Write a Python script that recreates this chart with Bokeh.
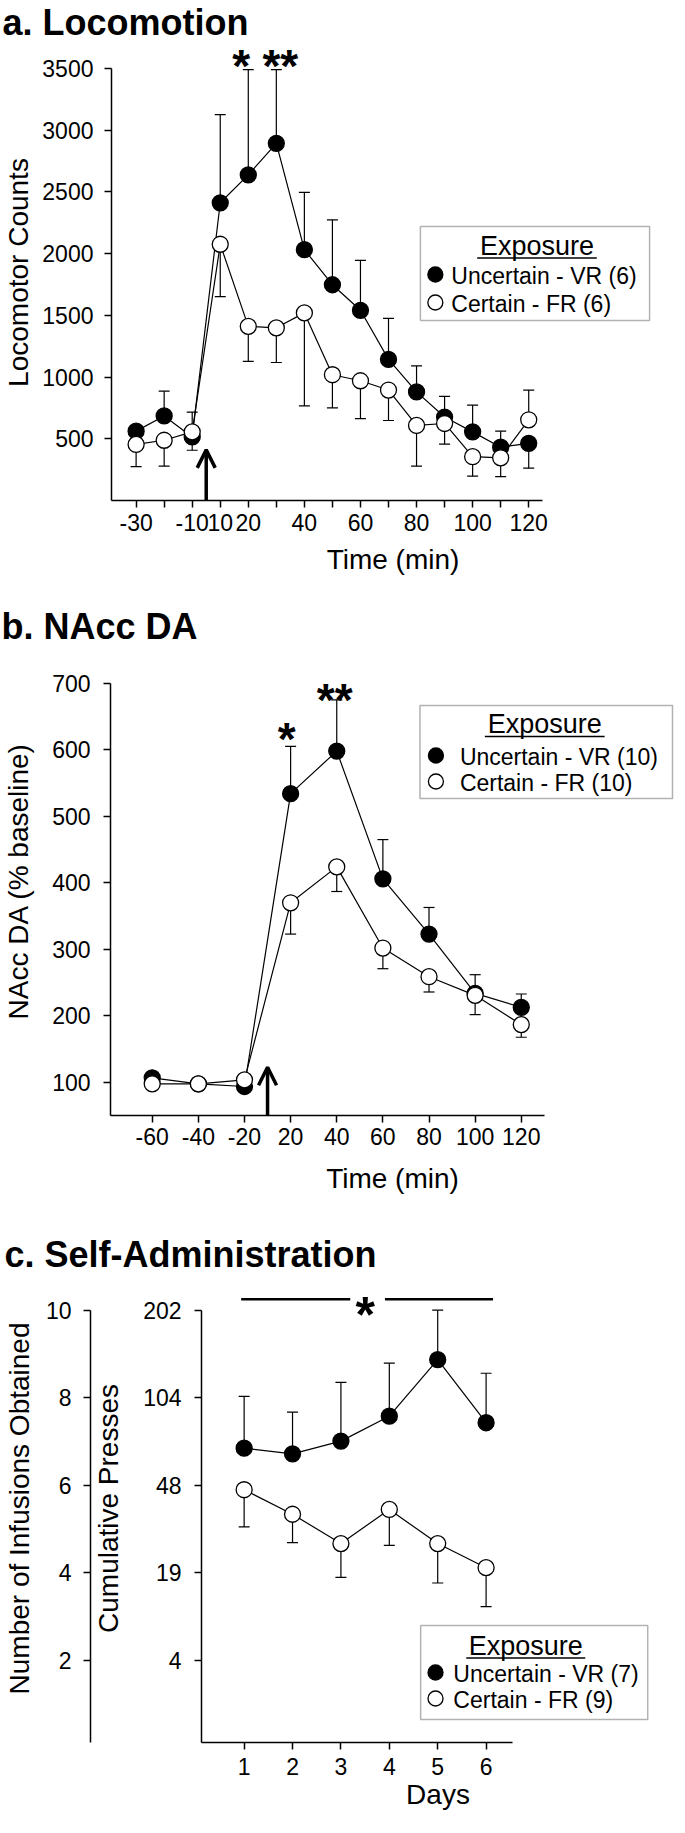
import numpy as np
from bokeh.plotting import figure
from bokeh.models import (Range1d, LinearAxis, FixedTicker, Whisker, TeeHead, Arrow,
                          OpenHead, Label, BoxAnnotation, Title, ColumnDataSource)
from bokeh.embed import file_html
from bokeh.resources import INLINE

# ---------------- data ----------------
# a. Locomotion
a_time = [-30, -20, -10, 10, 20, 30, 40, 50, 60, 70, 80, 90, 100, 110, 120]
a_labeled_times = [-30, -10, 10, 20, 40, 60, 80, 100, 120]
a_vr_mean = [562, 685, 515, 2412, 2638, 2894, 2032, 1748, 1541, 1143, 880, 676, 556, 432, 463]
a_vr_sem = [40, 201, 108, 714, 853, 597, 464, 525, 405, 333, 210, 167, 216, 130, 201]
a_fr_mean = [454, 488, 556, 2076, 1411, 1399, 1520, 1019, 970, 895, 608, 624, 355, 346, 654]
a_fr_sem = [180, 210, 160, 424, 284, 281, 754, 269, 306, 247, 330, 167, 158, 152, 241]
a_yticks = [500, 1000, 1500, 2000, 2500, 3000, 3500]
a_sig_times = [20, 30]
a_sig_marks = ["*", "**"]
a_legend = ["Uncertain - VR (6)", "Certain - FR (6)"]

# b. NAcc DA
b_time = [-60, -40, -20, 20, 40, 60, 80, 100, 120]
b_vr_mean = [107, 98, 94, 534, 598, 406, 323, 234, 213]
b_vr_sem = [5, 4, 4, 71, 77, 59, 40, 28, 20]
b_fr_mean = [98, 98, 104, 370, 424, 302, 259, 231, 187]
b_fr_sem = [4, 4, 5, 47, 37, 31, 23, 29, 19]
b_yticks = [100, 200, 300, 400, 500, 600, 700]
b_sig_times = [20, 40]
b_sig_marks = ["*", "**"]
b_legend = ["Uncertain - VR (10)", "Certain - FR (10)"]

# c. Self-Administration
c_days = [1, 2, 3, 4, 5, 6]
c_vr_mean = [6.85, 6.72, 7.01, 7.58, 8.87, 7.43]
c_vr_sem = [1.18, 0.95, 1.34, 1.21, 1.13, 1.13]
c_fr_mean = [5.90, 5.34, 4.67, 5.45, 4.67, 4.12]
c_fr_sem = [0.85, 0.65, 0.77, 0.82, 0.90, 0.89]
c_infusion_ticks = [2, 4, 6, 8, 10]
c_press_labels = ["4", "19", "48", "104", "202"]
c_legend = ["Uncertain - VR (7)", "Certain - FR (9)"]

# ---------------- layout constants (page pixels) ----------------
FONT = "Liberation Sans"
M = 8            # body margin
FIG_W = 676
FRAME_R = 682    # right edge of every frame on the page
BASE_FIX = 0.3   # labels render about 0.3 em below the requested baseline


def inv(v1, p1, v2, p2):
    k = (v2 - v1) / (p2 - p1)
    return lambda p: v1 + (p - p1) * k


def style_axis(ax, ticks, bounds, std, label, lstd, overrides=None):
    ax.ticker = FixedTicker(ticks=list(ticks))
    if overrides is not None:
        ax.major_label_overrides = overrides
    ax.bounds = bounds
    ax.axis_line_width = 1.5
    ax.axis_line_color = "black"
    ax.major_tick_line_width = 1.5
    ax.major_tick_line_color = "black"
    ax.major_tick_out = 7
    ax.major_tick_in = 0
    ax.minor_tick_line_color = None
    ax.minor_tick_out = 0
    ax.major_label_text_font = FONT
    ax.major_label_text_font_size = "23px"
    ax.major_label_text_color = "black"
    ax.major_label_standoff = std
    ax.axis_label = label
    ax.axis_label_text_font = FONT
    ax.axis_label_text_font_size = "28px"
    ax.axis_label_text_font_style = "normal"
    ax.axis_label_text_color = "black"
    ax.axis_label_standoff = lstd


def make_fig(fig_top, frame_top, frame_bot, height, left_frame, xinv, yinv, title, valign):
    xr = Range1d(xinv(left_frame), xinv(FRAME_R))
    yr = Range1d(yinv(frame_bot), yinv(frame_top))
    p = figure(width=FIG_W, height=height, x_range=xr, y_range=yr,
               output_backend="svg", toolbar_location=None,
               min_border_left=left_frame - M, min_border_right=FIG_W - (FRAME_R - M),
               min_border_top=frame_top - fig_top,
               min_border_bottom=height - (frame_bot - fig_top))
    p.title = Title(text=title, align="left", offset=-(left_frame - M),
                    text_font=FONT, text_font_size="36px", text_font_style="bold",
                    text_color="black", standoff=0, vertical_align=valign)
    p.grid.visible = False
    p.outline_line_color = None
    p.background_fill_color = "white"
    p.border_fill_color = "white"
    return p


def add_series(p, x, mean, sem, up, filled):
    cap = [m + s if u else m - s for m, s, u in zip(mean, sem, up)]
    src = ColumnDataSource(dict(base=list(x), lower=list(mean), upper=cap))
    p.add_layout(Whisker(source=src, base="base", lower="lower", upper="upper",
                         dimension="height", line_color="black", line_width=1.2,
                         upper_head=TeeHead(size=11, line_width=1.2, line_color="black"),
                         lower_head=None, level="underlay"))
    p.line(list(x), list(mean), line_color="black", line_width=1.2)
    p.scatter(list(x), list(mean), marker="circle", size=16,
              fill_color="black" if filled else "white",
              line_color="black", line_width=1.3)


def add_star(p, x, y, text, size="46px"):
    p.add_layout(Label(x=x, y=y, text=text, text_align="center",
                       text_baseline="alphabetic", text_font=FONT,
                       text_font_size=size, text_font_style="bold",
                       text_color="black"))


def add_legend(p, xinv, yinv, labels, box, title_cx, title_base, ul_y, rows, mk_x, tx_x):
    L, R, T, B = box
    p.add_layout(BoxAnnotation(left=xinv(L), right=xinv(R), top=yinv(T), bottom=yinv(B),
                               fill_color="white", fill_alpha=1.0,
                               line_color="black", line_width=1.5))
    p.add_layout(Label(x=xinv(title_cx), y=yinv(title_base - BASE_FIX * 27), text="Exposure",
                       text_align="center", text_baseline="alphabetic",
                       text_font=FONT, text_font_size="27px", text_color="black"))
    p.add_layout(Arrow(start=None, end=None, x_start=xinv(title_cx - 60),
                       x_end=xinv(title_cx + 60), y_start=yinv(ul_y), y_end=yinv(ul_y),
                       line_width=1.5, line_color="black"))
    p.scatter([xinv(mk_x)] * 2, [yinv(r) for r in rows], marker="circle", size=15,
              fill_color=["black", "white"], line_color="black", line_width=1.3,
              level="overlay")
    for lab, r in zip(labels, rows):
        p.add_layout(Label(x=xinv(tx_x), y=yinv(r + 8.2 - BASE_FIX * 23), text=lab,
                           text_align="left", text_baseline="alphabetic", text_font=FONT,
                           text_font_size="23px", text_color="black"))


def up_flags(vr, fr):
    vr = np.asarray(vr); fr = np.asarray(fr)
    return list(vr >= fr), list(fr > vr)


# ================= panel a =================
A_FIG, A_TOP, A_BOT, A_H, A_LEFT = 8, 52, 508, 592, 117
A_X0, A_STEP = 141.7, (535.7 - 141.7) / 14
ax_inv = inv(0, A_X0, 1, A_X0 + A_STEP)
ay_inv = inv(0, 508, 3500, 76)
pa = make_fig(A_FIG, A_TOP, A_BOT, A_H, A_LEFT, ax_inv, ay_inv, "a. Locomotion", "top")
a_x = np.arange(len(a_time))
uvr, ufr = up_flags(a_vr_mean, a_fr_mean)
add_series(pa, a_x, a_vr_mean, a_vr_sem, uvr, True)
add_series(pa, a_x, a_fr_mean, a_fr_sem, ufr, False)
style_axis(pa.xaxis[0], a_x, (pa.x_range.start, ax_inv(550)), 6, "Time (min)", 10,
           {int(i): (str(t) if t in a_labeled_times else "") for i, t in zip(a_x, a_time)})
style_axis(pa.yaxis[0], a_yticks, (0, 3500), 11, "Locomotor Counts", 5)
a_inj = (max(i for i, t in zip(a_x, a_time) if t < 0) + min(i for i, t in zip(a_x, a_time) if t > 0)) / 2
pa.add_layout(Arrow(end=OpenHead(size=18, line_width=3.5, line_color="black"),
                    x_start=a_inj, y_start=0, x_end=a_inj, y_end=410,
                    line_width=3.5, line_color="black"))
for t, s, dx in zip(a_sig_times, a_sig_marks, [-7, 4]):
    add_star(pa, a_time.index(t) + dx / A_STEP, ay_inv(60 + 13.3), s)
add_legend(pa, ax_inv, ay_inv, a_legend, (427, 657, 234, 328), 544, 262, 265.5,
           (282, 310), 442, 458)

# ================= panel b =================
B_FIG, B_TOP, B_BOT, B_H, B_LEFT = 600, 654, 1123, 620, 117
B_X0, B_STEP = 158.8, (528.5 - 158.8) / 8
bx_inv = inv(0, B_X0, 1, B_X0 + B_STEP)
by_inv = inv(100, 1090, 700, 690.7)
pb = make_fig(B_FIG, B_TOP, B_BOT, B_H, B_LEFT, bx_inv, by_inv, "b. NAcc DA", "bottom")
b_x = np.arange(len(b_time))
uvr, ufr = up_flags(b_vr_mean, b_fr_mean)
add_series(pb, b_x, b_vr_mean, b_vr_sem, uvr, True)
add_series(pb, b_x, b_fr_mean, b_fr_sem, ufr, False)
style_axis(pb.xaxis[0], b_x, (pb.x_range.start, bx_inv(551.8)), 5, "Time (min)", 15,
           {int(i): str(t) for i, t in zip(b_x, b_time)})
style_axis(pb.yaxis[0], b_yticks, (pb.y_range.start, 700), 13, "NAcc DA (% baseline)", 15)
b_inj = (max(i for i, t in zip(b_x, b_time) if t < 0) + min(i for i, t in zip(b_x, b_time) if t > 0)) / 2
pb.add_layout(Arrow(end=OpenHead(size=18, line_width=3.5, line_color="black"),
                    x_start=b_inj, y_start=pb.y_range.start, x_end=b_inj, y_end=123,
                    line_width=3.5, line_color="black"))
for t, s, yc, dx in zip(b_sig_times, b_sig_marks, [733, 694], [-4, -2]):
    add_star(pb, b_time.index(t) + dx / B_STEP, by_inv(yc + 13.3), s)
add_legend(pb, bx_inv, by_inv, b_legend, (427, 680, 713, 806), 552, 740, 744,
           (763, 789), 443, 467)

# ================= panel c =================
C_FIG, C_TOP, C_BOT, C_H, C_LEFT = 1220, 1282, 1750, 605, 205
cx_inv = inv(1, 248, 6, 492)
cy_inv = inv(2, 1668, 10, 1317.7)
pc = make_fig(C_FIG, C_TOP, C_BOT, C_H, C_LEFT, cx_inv, cy_inv,
              "c. Self-Administration", "bottom")
uvr, ufr = up_flags(c_vr_mean, c_fr_mean)
add_series(pc, c_days, c_vr_mean, c_vr_sem, uvr, True)
add_series(pc, c_days, c_fr_mean, c_fr_sem, ufr, False)
style_axis(pc.xaxis[0], c_days, (pc.x_range.start, cx_inv(519)), 8, "Days", 1)
style_axis(pc.yaxis[0], c_infusion_ticks, (pc.y_range.start, 10), 13, "Cumulative Presses", 16,
           {t: l for t, l in zip(c_infusion_ticks, c_press_labels)})
outer = LinearAxis()
pc.add_layout(outer, "left")
style_axis(outer, c_infusion_ticks, (pc.y_range.start, 10), 12,
           "Number of Infusions Obtained", 8)
# significance bar spanning all days
mid = (c_days[0] + c_days[-1]) / 2
bar_y = cy_inv(1306.7)
for xs, xe in [(cx_inv(245), cx_inv(355)), (cx_inv(390), cx_inv(499))]:
    pc.add_layout(Arrow(start=None, end=None, x_start=xs, x_end=xe, y_start=bar_y,
                        y_end=bar_y, line_width=2.5, line_color="black"))
add_star(pc, mid, cy_inv(1308 + 14.5), "*", "50px")
add_legend(pc, cx_inv, cy_inv, c_legend, (426, 655, 1633, 1727), 532, 1662, 1665.5,
           (1680, 1706), 441, 459)

open("out.html", "w").write(file_html([pa, pb, pc], INLINE))
